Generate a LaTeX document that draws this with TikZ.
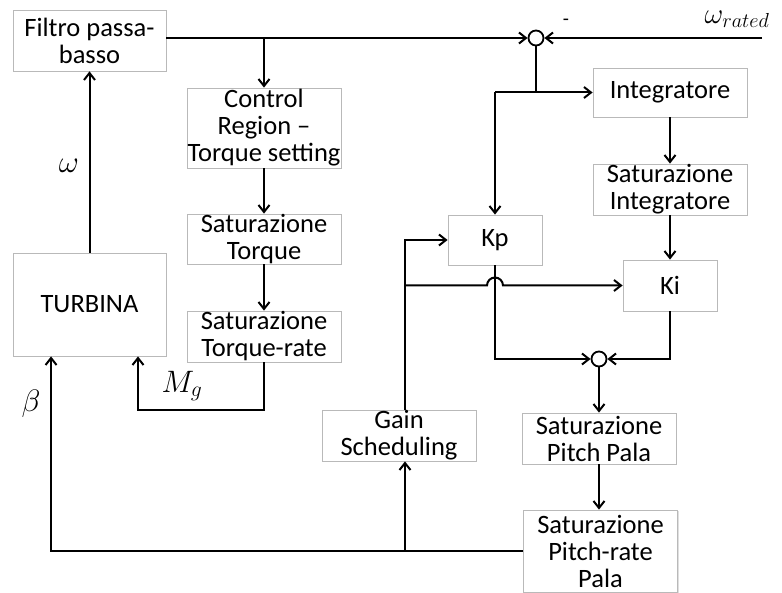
\RequirePackage{fix-cm}
\documentclass[tikz,border=0pt]{standalone}
\usepackage{fontspec}
\setmainfont{Carlito}
\usetikzlibrary{arrows.meta,shadows,calc}
\begin{document}
\begin{tikzpicture}[x=1pt,y=-1pt,
 box/.style={draw=gray!55, line width=0.8pt, fill=white, align=center, inner sep=0pt,
   font=\fontsize{26.5}{27}\selectfont,
   drop shadow={shadow xshift=1.2pt,shadow yshift=-1.2pt,opacity=0.25}},
 wire/.style={line width=2pt, black},
 arr/.style={wire, -{Straight Barb[length=7pt,width=11pt]}},
 sumnode/.style={circle, draw, line width=1.8pt, minimum size=15pt, inner sep=0pt, fill=white},
 lbl/.style={font=\fontsize{31}{33}\selectfont, inner sep=0pt}]
\useasboundingbox (0,0) rectangle (782,593);

% blocks
\node[box, minimum width=153pt, minimum height=61pt] (filt) at (89.5,40.5) {Filtro passa-\\basso};
\node[box, minimum width=154pt, minimum height=80pt] (ctrl) at (264,128) {Control\\Region --\\Torque setting};
\node[box, minimum width=154pt, minimum height=50pt] (satT) at (264,239) {Saturazione\\Torque};
\node[box, minimum width=154pt, minimum height=51pt] (satTR) at (264,336.5) {Saturazione\\Torque-rate};
\node[box, minimum width=153pt, minimum height=103pt] (turb) at (89.5,304.5) {TURBINA};
\node[box, minimum width=154pt, minimum height=49pt] (integ) at (670,92.5) {Integratore};
\node[box, minimum width=154pt, minimum height=51pt] (satI) at (670,189.5) {Saturazione\\Integratore};
\node[box, minimum width=94pt, minimum height=50pt] (kp) at (495,240) {Kp};
\node[box, minimum width=94pt, minimum height=51pt] (ki) at (670,285.5) {Ki};
\node[box, minimum width=154pt, minimum height=51pt] (satP) at (599,438.5) {Saturazione\\Pitch Pala};
\node[box, minimum width=154pt, minimum height=82pt] (satPR) at (600.5,551) {Saturazione\\Pitch-rate\\Pala};
\node[box, minimum width=154pt, minimum height=51pt] (gain) at (399,435.5) {Gain\\Scheduling};
\node[sumnode] (sum1) at (536,38) {};
\node[sumnode] (sum2) at (599,359) {};

% helper coordinates
\coordinate (wr) at (762,38);
\coordinate (gx) at (405,0);
\coordinate (betain) at ($(turb.south west)!0.25!(turb.south east)$);
\coordinate (mgc) at (138,410);

% labels
\node[lbl] (om) at (69,166) {$\omega$};
\node[lbl] (beta) at (31,404) {$\beta$};
\node[lbl] (mg) at (182,386) {$M_g$};
\node[lbl, font=\fontsize{29}{31}\selectfont] (omr) at (737,19) {$\omega_{rated}$};
\node[font=\fontsize{20}{22}\selectfont, inner sep=0pt] (minus) at (566,22) {-};

% connectors
\draw[arr] (filt.east |- sum1.west) -- (sum1.west);
\draw[arr] (ctrl.north |- sum1.west) -- (ctrl.north);
\draw[arr] (wr) -- (sum1.east);
\draw[wire] (sum1.south) -- (sum1.south |- integ.west);
\draw[arr] (kp.north |- integ.west) -- (integ.west);
\draw[arr] (kp.north |- integ.west) -- (kp.north);
\draw[arr] (integ.south) -- (satI.north);
\draw[arr] (satI.south) -- (ki.north);
\draw[arr] (kp.south) |- (sum2.west);
\draw[arr] (ki.south) |- (sum2.east);
\draw[arr] (sum2.south) -- (satP.north);
\draw[arr] (satP.south) -- (satP.south |- satPR.north);
\draw[arr] (satPR.west) -| (betain);
\draw[arr] (gx |- satPR.west) -- (gx |- gain.south);
\draw[arr] (gx |- gain.north) |- (kp.west);
\draw[arr] (gx |- ki.west) -- ($(kp.south |- ki.west)+(-8,0)$)
   arc[start angle=180, end angle=360, radius=8] -- (ki.west);
\draw[arr] (ctrl.south) -- (satT.north);
\draw[arr] (satT.south) -- (satTR.north);
\draw[arr] (satTR.south) |- (mgc) -- (mgc |- turb.south);
\draw[arr] (turb.north) -- (filt.south);
\end{tikzpicture}
\end{document}
